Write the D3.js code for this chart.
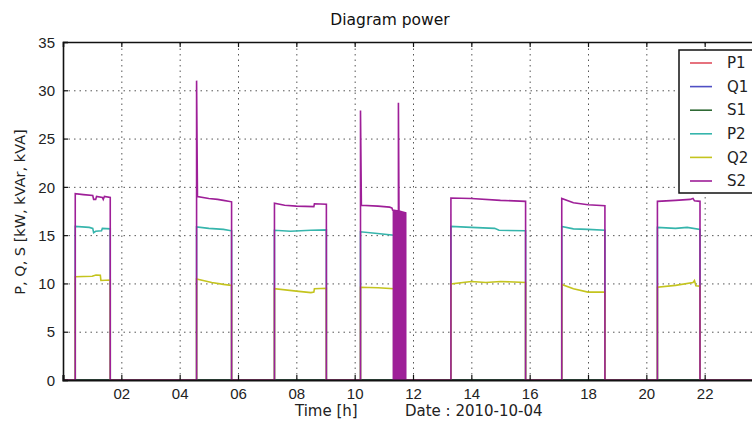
<!DOCTYPE html>
<html>
<head>
<meta charset="utf-8">
<script src="https://d3js.org/d3.v7.min.js"></script>
<style>
  body { margin: 0; background: #fff; overflow: hidden; }
  svg { display: block; font-family: "DejaVu Sans", sans-serif; }
</style>
</head>
<body>
<div id="chart"></div>
<script>
// series names and colours as in the legend
const seriesNames = ["P1", "Q1", "S1", "P2", "Q2", "S2"];
const seriesColors = ["#e04e5e", "#4f4fc4", "#2f6a35", "#36b5ac", "#c4c41e", "#9e1f98"];

// time in hours, value in kW / kVAr / kVA
const p1 = [[0, 0], [24, 0]];
const q1 = [[0, 0], [24, 0]];
const s1 = [[0, 0], [24, 0]];

const p2 = [
  [0, 0], [0.42, 0], [0.42, 15.9], [0.9, 15.8], [1.02, 15.7], [1.05, 15.25], [1.12, 15.4], [1.32, 15.45], [1.35, 15.7], [1.62, 15.65], [1.62, 0],
  [4.58, 0], [4.58, 15.85], [5.0, 15.7], [5.5, 15.6], [5.78, 15.45], [5.78, 0],
  [7.25, 0], [7.25, 15.5], [7.8, 15.4], [8.5, 15.5], [9.03, 15.55], [9.03, 0],
  [10.2, 0], [10.2, 15.35], [10.7, 15.2], [11.34, 15.0], [11.34, 0],
  [13.3, 0], [13.3, 15.9], [14.0, 15.8], [14.8, 15.7], [14.95, 15.5], [15.86, 15.45], [15.86, 0],
  [17.1, 0], [17.1, 15.9], [17.5, 15.65], [18.0, 15.6], [18.58, 15.5], [18.58, 0],
  [20.38, 0], [20.38, 15.8], [21.0, 15.7], [21.4, 15.8], [21.84, 15.6], [21.84, 0],
  [24, 0]
];

const q2 = [
  [0, 0], [0.42, 0], [0.42, 10.7], [1.0, 10.75], [1.13, 10.87], [1.28, 10.85], [1.3, 10.3], [1.62, 10.35], [1.62, 0],
  [4.58, 0], [4.58, 10.45], [5.1, 10.1], [5.5, 9.9], [5.78, 9.8], [5.78, 0],
  [7.25, 0], [7.25, 9.45], [8.0, 9.2], [8.5, 9.05], [8.6, 9.1], [8.62, 9.45], [9.03, 9.5], [9.03, 0],
  [10.2, 0], [10.2, 9.6], [10.8, 9.55], [11.34, 9.45], [11.34, 0],
  [13.3, 0], [13.3, 9.95], [14.0, 10.2], [14.5, 10.1], [15.0, 10.2], [15.86, 10.1], [15.86, 0],
  [17.1, 0], [17.1, 9.9], [17.5, 9.45], [18.0, 9.1], [18.58, 9.1], [18.58, 0],
  [20.38, 0], [20.38, 9.6], [21.0, 9.8], [21.6, 10.1], [21.65, 10.3], [21.7, 9.75], [21.84, 9.7], [21.84, 0],
  [24, 0]
];

const s2 = [
  [0, 0], [0.42, 0], [0.42, 19.3], [0.7, 19.2], [1.02, 19.1], [1.05, 18.7], [1.12, 18.7], [1.15, 19.0], [1.35, 18.9], [1.38, 18.7], [1.42, 19.0], [1.62, 18.9], [1.62, 0],
  [4.58, 0], [4.58, 31.0], [4.61, 19.0], [5.0, 18.8], [5.3, 18.7], [5.5, 18.6], [5.78, 18.45], [5.78, 0],
  [7.25, 0], [7.25, 18.3], [7.6, 18.1], [8.0, 18.0], [8.6, 17.95], [8.62, 18.25], [9.03, 18.2], [9.03, 0],
  [10.2, 0], [10.2, 27.9], [10.23, 18.1], [10.8, 18.0], [11.2, 17.9], [11.28, 17.8], [11.3, 17.6],
  [11.5, 17.5], [11.5, 28.7], [11.52, 17.5], [11.75, 17.3], [11.75, 0],
  [13.3, 0], [13.3, 18.85], [14.0, 18.8], [15.0, 18.6], [15.86, 18.5], [15.86, 0],
  [17.1, 0], [17.1, 18.8], [17.5, 18.35], [18.0, 18.15], [18.58, 18.05], [18.58, 0],
  [20.38, 0], [20.38, 18.5], [21.0, 18.6], [21.5, 18.7], [21.6, 18.8], [21.65, 18.55], [21.84, 18.5], [21.84, 0],
  [24, 0]
];

// rapid on/off switching of S2 around 11:30, drawn as a filled envelope
const s2Burst = [[11.3, 17.6], [11.5, 17.5], [11.75, 17.3]];

const allSeries = [p1, q1, s1, p2, q2, s2];

const xTicks = [2, 4, 6, 8, 10, 12, 14, 16, 18, 20, 22];
const yTicks = [0, 5, 10, 15, 20, 25, 30, 35];

const width = 752, height = 421;
const margin = { top: 42, left: 63, right: -11, bottom: 41 };
const plotW = width - margin.left - margin.right;
const plotH = height - margin.top - margin.bottom;

const svg = d3.select("#chart").append("svg")
  .attr("width", width)
  .attr("height", height);

const x = d3.scaleLinear().domain([0, 24]).range([margin.left, margin.left + plotW]);
const y = d3.scaleLinear().domain([0, 35]).range([margin.top + plotH, margin.top]);

// grid
svg.append("g")
  .attr("class", "grid")
  .attr("transform", `translate(0,${margin.top + plotH})`)
  .call(d3.axisBottom(x).tickValues(xTicks).tickSize(-plotH).tickFormat(""))
  .call(g => g.select(".domain").remove());
svg.append("g")
  .attr("class", "grid")
  .attr("transform", `translate(${margin.left},0)`)
  .call(d3.axisLeft(y).tickValues(yTicks.slice(1, -1)).tickSize(-plotW).tickFormat(""))
  .call(g => g.select(".domain").remove());
svg.selectAll(".grid line")
  .attr("stroke", "#555")
  .attr("stroke-width", 1)
  .attr("stroke-dasharray", "1.5,4");

// lines
let line = d3.line()
  .x(d => x(d[0]))
  .y(d => y(d[1]));

allSeries.forEach(function(s, i) {
  svg.append("path")
    .datum(s)
    .attr("fill", "none")
    .attr("stroke", seriesColors[i])
    .attr("stroke-width", 1.6)
    .attr("d", line);
});

svg.append("path")
  .datum(s2Burst)
  .attr("fill", seriesColors[5])
  .attr("d", d3.area().x(d => x(d[0])).y0(y(0)).y1(d => y(d[1])));

// axes, ticks pointing inward
let yAxis = svg.append("g")
  .attr("transform", `translate(${margin.left},0)`)
  .call(d3.axisLeft(y).tickValues(yTicks).tickSize(-5).tickPadding(8));

let xAxis = svg.append("g")
  .attr("transform", `translate(0,${margin.top + plotH})`)
  .call(d3.axisBottom(x).tickValues(xTicks).tickSize(-5).tickPadding(8).tickFormat(d3.format("02d")));

let topAxis = svg.append("g")
  .attr("transform", `translate(0,${margin.top})`)
  .call(d3.axisTop(x).tickValues(xTicks).tickSize(-5).tickFormat(""));

[yAxis, xAxis, topAxis].forEach(function(a) {
  a.select(".domain").attr("stroke", "#111").attr("stroke-width", 1.6);
  a.selectAll(".tick line").attr("stroke", "#111").attr("stroke-width", 1.2);
  a.selectAll(".tick text").attr("fill", "#222").style("font-size", "15px");
});
xAxis.select(".domain").attr("stroke-width", 2.2);
yAxis.selectAll(".tick text").attr("dy", "0.35em");

// title and labels
svg.append("text")
  .attr("x", 390)
  .attr("y", 25)
  .attr("text-anchor", "middle")
  .style("font-size", "15.5px")
  .attr("fill", "#111")
  .text("Diagram power");

svg.append("text")
  .attr("transform", "translate(25,212) rotate(-90)")
  .attr("text-anchor", "middle")
  .style("font-size", "14.5px")
  .attr("fill", "#222")
  .text("P, Q, S [kW, kVAr, kVA]");

svg.append("text")
  .attr("x", 295)
  .attr("y", 416)
  .style("font-size", "15px")
  .attr("fill", "#222")
  .text("Time [h]");

svg.append("text")
  .attr("x", 405)
  .attr("y", 416)
  .style("font-size", "15px")
  .attr("fill", "#222")
  .text("Date : 2010-10-04");

// legend
let legend = svg.append("g");
legend.append("rect")
  .attr("x", 679)
  .attr("y", 50)
  .attr("width", 100)
  .attr("height", 143)
  .attr("fill", "#fff")
  .attr("stroke", "#111")
  .attr("stroke-width", 1.5);

seriesNames.forEach(function(name, i) {
  let ly = 63 + i * 23.6;
  legend.append("line")
    .attr("x1", 690).attr("x2", 712)
    .attr("y1", ly).attr("y2", ly)
    .attr("stroke", seriesColors[i])
    .attr("stroke-width", 1.6);
  legend.append("text")
    .attr("x", 727)
    .attr("y", ly)
    .attr("dy", "0.35em")
    .style("font-size", "15px")
    .attr("fill", "#222")
    .text(name);
});
</script>
</body>
</html>
